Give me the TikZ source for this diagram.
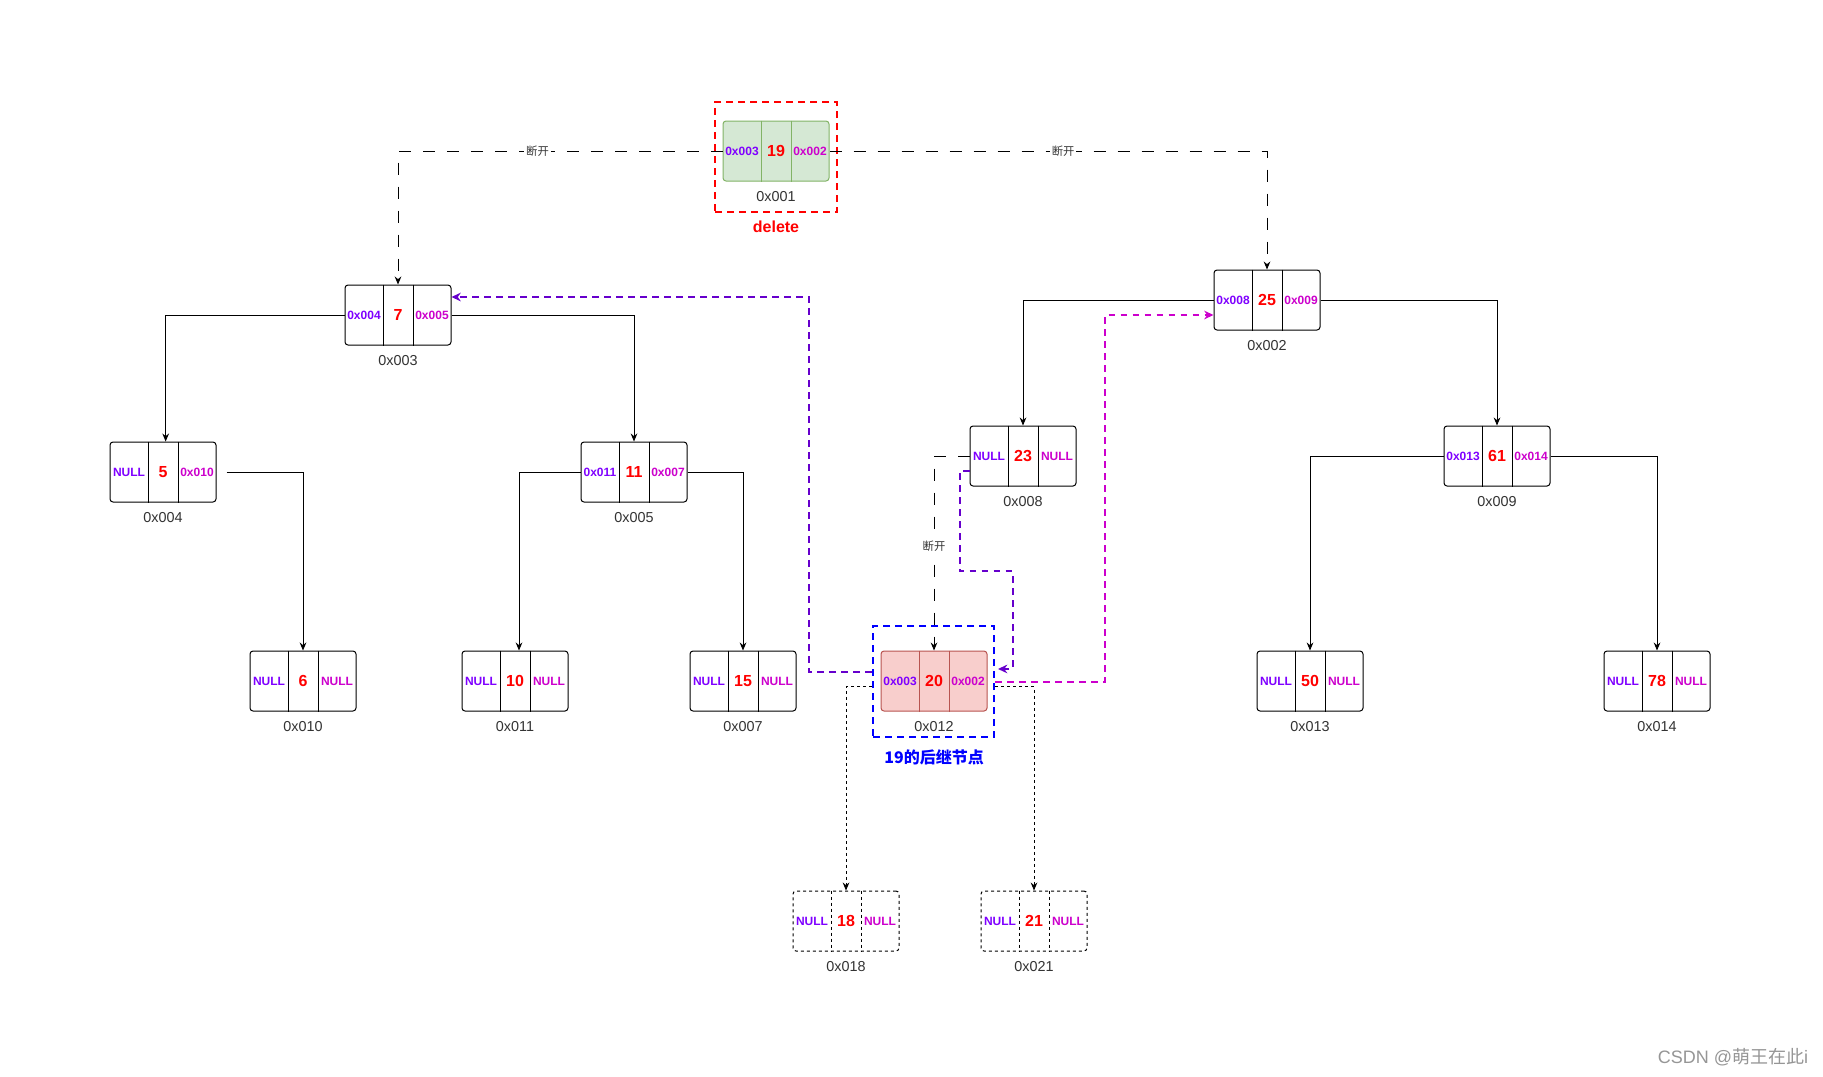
\documentclass[tikz,border=0pt]{standalone}
\usepackage{fontspec}
\setmainfont{Liberation Sans}
\newfontfamily\cjk{Noto Sans CJK SC}
\usetikzlibrary{arrows.meta}

\definecolor{lcol}{RGB}{127,0,255}
\definecolor{rcol}{RGB}{204,0,204}
\definecolor{grnfill}{RGB}{213,232,212}
\definecolor{grndraw}{RGB}{130,179,102}
\definecolor{redfill}{RGB}{248,206,204}
\definecolor{reddraw}{RGB}{184,84,80}
\definecolor{lblgray}{RGB}{51,51,51}
\definecolor{viol}{RGB}{102,0,204}
\definecolor{wmgray}{RGB}{150,150,150}

\begin{document}
\begin{tikzpicture}[x=0.75pt, y=-0.75pt, every node/.style={inner sep=0pt}, >={Stealth[length=6pt,width=5pt]},
	rec/.style={draw, rounded corners=2.25pt, minimum width=79.5pt, minimum height=45pt, line width=0.75pt},
	plainrec/.style={},
	grnrec/.style={fill=grnfill, draw=grndraw},
	redrec/.style={fill=redfill, draw=reddraw},
	dashrec/.style={dash pattern=on 2.25pt off 2.25pt},
	lft/.style={font=\bfseries\fontsize{9}{10}\selectfont, text=lcol},
	val/.style={font=\bfseries\fontsize{12}{14}\selectfont, text=red},
	rgt/.style={font=\bfseries\fontsize{9}{10}\selectfont, text=rcol},
	addr/.style={font=\fontsize{10.8}{12}\selectfont, text=lblgray},
	conn/.style={->, line width=0.75pt},
	cut/.style={->, line width=0.75pt, dash pattern=on 9pt off 9pt},
	cutlbl/.style={fill=white, inner sep=1.5pt, font=\cjk\fontsize{8.5}{9}\selectfont, text=lblgray},
	vline/.style={-{Stealth[length=7pt,width=6.5pt]}, viol, line width=1.5pt, dash pattern=on 5pt off 4pt},
	mline/.style={-{Stealth[length=7pt,width=6.5pt]}, rcol, line width=1.5pt, dash pattern=on 5pt off 4pt},
	dotl/.style={->, line width=0.75pt, dash pattern=on 2.25pt off 2.25pt}]
	\fill[white] (0,0) rectangle (1823,1076);
	\useasboundingbox (0,0) rectangle (1823,1076);
	% marked boxes
	\node[draw=red, line width=1.5pt, dash pattern=on 5pt off 4pt, minimum width=91.5pt, minimum height=82.5pt] (del) at (776,157) {};
	\node[font=\bfseries\fontsize{12}{14}\selectfont, text=red] (delt) at (776,227) {delete};
	\node[draw=blue, line width=1.5pt, dash pattern=on 5pt off 4pt, minimum width=90.75pt, minimum height=83.25pt] (succ) at (933.5,681.5) {};
	\node[font=\cjk\bfseries\fontsize{12}{14}\selectfont, text=blue] (succt) at (934,757) {19的后继节点};
	% records
	\foreach \nm/\px/\py/\lt/\vl/\rt/\st in {
		001/776/151/0x003/19/0x002/grnrec,
		003/398/315/0x004/7/0x005/plainrec,
		002/1267/300/0x008/25/0x009/plainrec,
		004/163/472/NULL/5/0x010/plainrec,
		005/634/472/0x011/11/0x007/plainrec,
		008/1023/456/NULL/23/NULL/plainrec,
		009/1497/456/0x013/61/0x014/plainrec,
		010/303/681/NULL/6/NULL/plainrec,
		011/515/681/NULL/10/NULL/plainrec,
		007/743/681/NULL/15/NULL/plainrec,
		012/934/681/0x003/20/0x002/redrec,
		013/1310/681/NULL/50/NULL/plainrec,
		014/1657/681/NULL/78/NULL/plainrec,
		018/846/921/NULL/18/NULL/dashrec,
		021/1034/921/NULL/21/NULL/dashrec}{
		\node[rec,\st] (n\nm) at (\px,\py) {};
		\draw[line width=0.75pt,\st,fill=none] ([xshift=-11.25pt]n\nm.north) -- ([xshift=-11.25pt]n\nm.south) ([xshift=11.25pt]n\nm.north) -- ([xshift=11.25pt]n\nm.south);
		\node[lft] (n\nm-l) at ([xshift=-25.5pt]n\nm.center) {\lt};
		\node[val] (n\nm-v) at (n\nm.center) {\vl};
		\node[rgt] (n\nm-r) at ([xshift=25.5pt]n\nm.center) {\rt};
		\node[addr] (n\nm-a) at ([yshift=-11.5pt]n\nm.south) {0x\nm};
	}
	% tree links
	\draw[conn] (n003.west) -| ([xshift=2pt]n004.north);
	\draw[conn] (n003.east) -| (n005.north);
	\draw[conn] ([xshift=7.5pt]n004.east) -| (n010.north);
	\draw[conn] (n005.west) -| ([xshift=3pt]n011.north);
	\draw[conn] (n005.east) -| (n007.north);
	\draw[conn] (n002.west) -| (n008.north);
	\draw[conn] (n002.east) -| (n009.north);
	\draw[conn] (n009.west) -| (n013.north);
	\draw[conn] (n009.east) -| (n014.north);
	% cut links
	\draw[cut] (n001.west) -| node[cutlbl, pos=0.285] (cut1) {断开} (n003.north);
	\draw[cut] (n001.east) -| node[cutlbl, pos=0.267] (cut2) {断开} (n002.north);
	\draw[cut] (n008.west) -| node[cutlbl, pos=0.733] (cut3) {断开} (n012.north);
	% new links of the successor
	\draw[vline] ([yshift=7.5pt]succ.west) -- ++(-63,0) |- ([yshift=13.5pt]n003.east);
	\draw[vline] ([yshift=-11.25pt]n008.west) -- ++(-10,0) -- ++(0,100) -- ++(53,0) |- ([xshift=2.25pt,yshift=9.4pt]succ.east);
	\draw[mline] (succ.east) -- ++(110,0) |- ([yshift=-11.25pt]n002.west);
	\draw[dotl] ([yshift=-4pt]succ.west) -| (n018.north);
	\draw[dotl] ([yshift=-4pt]succ.east) -| (n021.north);
	\node[font=\fontsize{13.5}{15}\selectfont, text=wmgray] (wmark) at (1733,1057) {CSDN @{\cjk 萌王在此}i};
\end{tikzpicture}
\end{document}
